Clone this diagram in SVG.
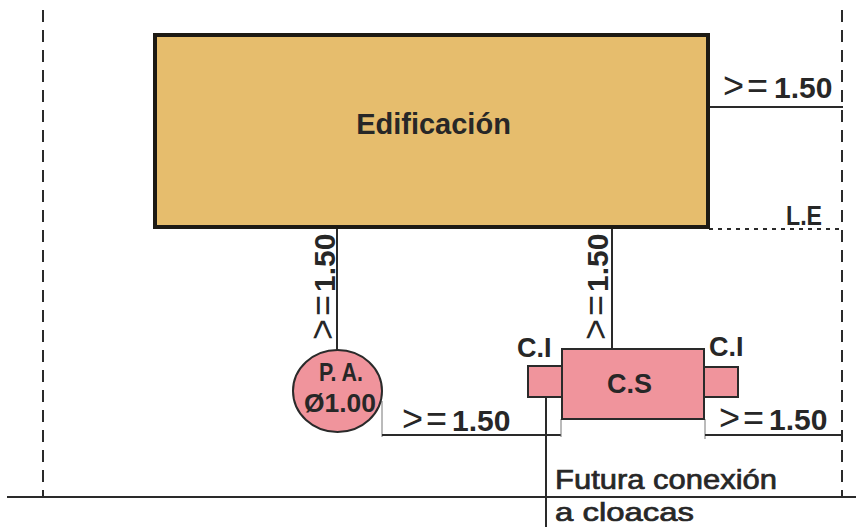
<svg xmlns="http://www.w3.org/2000/svg" width="856" height="527" viewBox="0 0 856 527">
<style>
text{font-family:"Liberation Sans",Arial,sans-serif;fill:#272727}
.dim{font-size:30px;font-weight:700}
.op{font-size:36px;font-weight:400;letter-spacing:3px}
.b{font-weight:700}
.ln{stroke:#2a2a2a;stroke-width:2;fill:none}
.tk{stroke:#777;stroke-width:1;fill:none}
.dash{stroke:#2a2a2a;stroke-width:2;fill:none;stroke-dasharray:12 8}
.pk{fill:#f0949c;stroke:#2a2a2a;stroke-width:2}
.note{font-size:27px;stroke:#272727;stroke-width:.7px}
</style>
<rect width="856" height="527" fill="#fff"/>
<g id="boundaries">
<line class="dash" x1="43" y1="10" x2="43" y2="496"/>
<line class="dash" x1="842" y1="10" x2="842" y2="496"/>
<line class="ln" x1="7" y1="497" x2="856" y2="497"/>
</g>
<g id="connectors">
<line class="ln" x1="709" y1="107" x2="843" y2="107"/>
<line x1="709" y1="229" x2="842" y2="229" stroke="#2a2a2a" stroke-width="2" stroke-dasharray="4 5"/>
<line class="ln" x1="337" y1="228" x2="337" y2="350"/>
<line class="ln" x1="612" y1="228" x2="612" y2="349"/>
<line class="tk" x1="382" y1="401" x2="382" y2="437"/>
<line class="ln" x1="382" y1="435" x2="561" y2="435"/>
<line class="tk" x1="561" y1="419" x2="561" y2="437"/>
<line class="tk" x1="705" y1="419" x2="705" y2="439"/>
<line class="ln" x1="705" y1="435" x2="842" y2="435"/>
<line class="ln" x1="546" y1="397" x2="546" y2="527" stroke-width="2.4"/>
</g>
<g id="edificacion">
<rect x="155" y="35" width="553" height="192" fill="#e6bd6d" stroke="#1d1a14" stroke-width="4"/>
<text class="b" x="433.500" y="134" font-size="29" text-anchor="middle">Edificación</text>
</g>
<g id="pozo">
<ellipse cx="337.500" cy="391" rx="44.500" ry="41" class="pk"/>
<text class="b" x="319" y="381" font-size="25" textLength="44" lengthAdjust="spacingAndGlyphs">P. A.</text>
<text class="b" x="304" y="412" font-size="25" textLength="72" lengthAdjust="spacingAndGlyphs">Ø1.00</text>
</g>
<g id="camara-izq">
<rect x="528" y="366" width="34" height="31" class="pk"/>
<text class="b" x="517" y="357" font-size="27">C.I</text>
</g>
<g id="camara-der">
<rect x="704" y="367" width="34" height="30" class="pk"/>
<text class="b" x="709" y="356" font-size="27">C.I</text>
</g>
<g id="camara-septica">
<rect x="562" y="349" width="142" height="70" class="pk"/>
<text class="b" x="607" y="393" font-size="27" textLength="45" lengthAdjust="spacingAndGlyphs">C.S</text>
</g>
<g id="labels">
<text class="dim" x="723" y="98"><tspan class="op">&gt;=</tspan><tspan dx="3">1.50</tspan></text>
<text class="dim" x="402" y="431"><tspan class="op">&gt;=</tspan><tspan dx="2">1.50</tspan></text>
<text class="dim" x="719" y="430"><tspan class="op">&gt;=</tspan><tspan dx="2">1.50</tspan></text>
<text class="dim" transform="translate(335,340) rotate(-90)"><tspan class="op">&gt;=</tspan><tspan dx="0">1.50</tspan></text>
<text class="dim" transform="translate(608,340) rotate(-90)"><tspan class="op">&gt;=</tspan><tspan dx="0">1.50</tspan></text>
<text class="b" x="786" y="225" font-size="28" textLength="36" lengthAdjust="spacingAndGlyphs">L.E</text>
<text class="note" x="555" y="489" textLength="222" lengthAdjust="spacingAndGlyphs">Futura conexión</text>
<text class="note" x="555" y="521" textLength="139" lengthAdjust="spacingAndGlyphs" style="font-size:26px">a cloacas</text>
</g>
</svg>
